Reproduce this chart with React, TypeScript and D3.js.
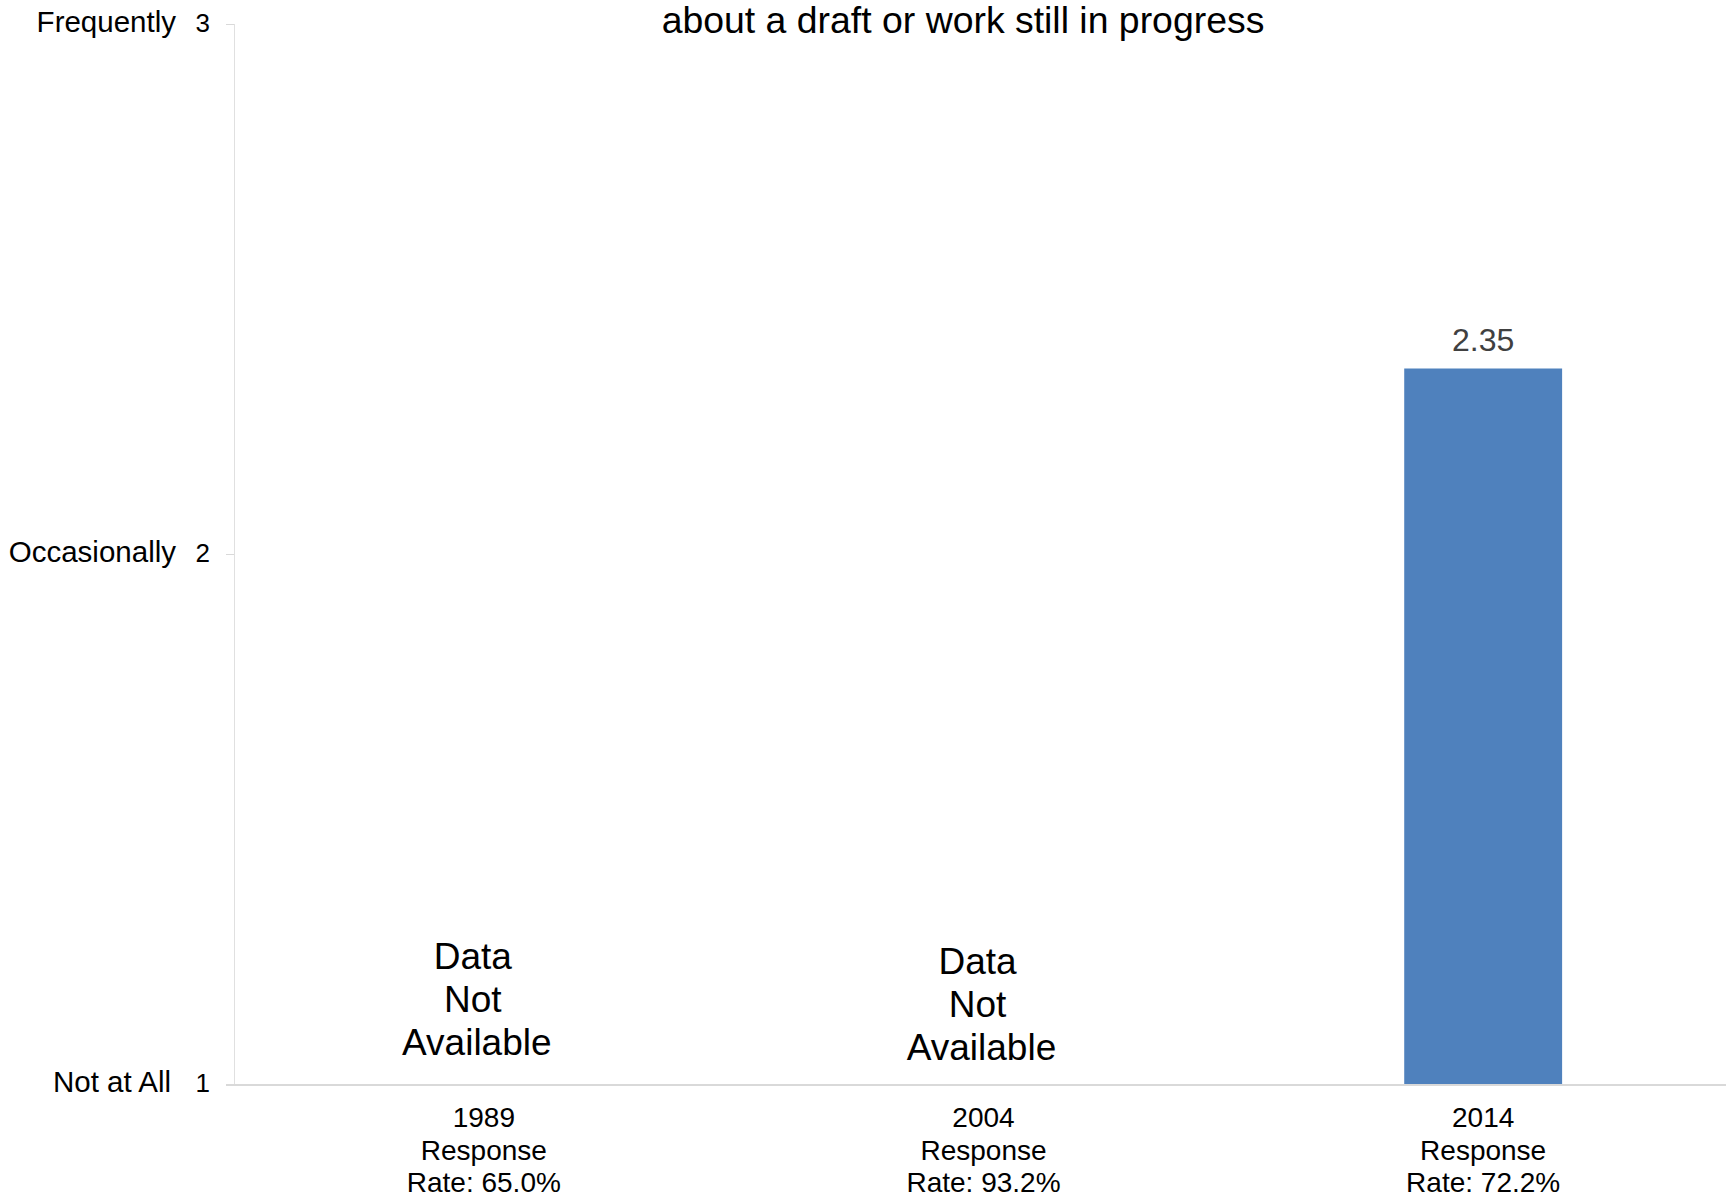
import React, { useRef, useEffect } from "react";
import * as d3 from "d3";

const years = ["1989", "2004", "2014"];
const responseRates = ["65.0%", "93.2%", "72.2%"];
const values: (number | null)[] = [null, null, 2.35];
const tickValues = [1, 2, 3];
const tickNames = ["Not at All", "Occasionally", "Frequently"];
const missingText = ["Data", "Not", "Available"];
const title = "about a draft or work still in progress";

const FONT = "'Liberation Sans', Arial, sans-serif";

const App: React.FC = () => {
  const ref = useRef<SVGSVGElement>(null);

  useEffect(() => {
    const svg = d3.select(ref.current);
    svg.selectAll("*").remove();

    const width = 1726,
      height = 1199;
    const left = 234,
      right = 1733,
      top = 24,
      bottom = 1084;

    const x = d3
      .scaleBand<string>()
      .domain(years)
      .range([left, right])
      .paddingInner(0.684)
      .paddingOuter(0.342);

    const y = d3.scaleLinear().domain([1, 3]).range([bottom, top]);

    svg.attr("width", width).attr("height", height);

    // Title (first line is off the top of the picture)
    svg
      .append("text")
      .attr("x", 963)
      .attr("y", 33)
      .attr("text-anchor", "middle")
      .style("font-family", FONT)
      .style("font-size", "37.4px")
      .style("fill", "#000")
      .text(title);

    // Y axis line
    svg
      .append("line")
      .attr("x1", left + 0.5)
      .attr("x2", left + 0.5)
      .attr("y1", y(3))
      .attr("y2", y(1))
      .attr("stroke", "#e0e0e0")
      .attr("stroke-width", 1);

    // Y ticks
    const ticks = svg.append("g");
    ticks
      .selectAll("line")
      .data(tickValues)
      .enter()
      .append("line")
      .attr("x1", left - 8)
      .attr("x2", left)
      .attr("y1", (d) => y(d) + 0.5)
      .attr("y2", (d) => y(d) + 0.5)
      .attr("stroke", "#d9d9d9")
      .attr("stroke-width", 1);

    ticks
      .selectAll("text.num")
      .data(tickValues)
      .enter()
      .append("text")
      .attr("class", "num")
      .attr("x", 210)
      .attr("y", (d) => y(d) + 8)
      .attr("text-anchor", "end")
      .style("font-family", FONT)
      .style("font-size", "26px")
      .style("fill", "#000")
      .text((d) => String(d));

    ticks
      .selectAll("text.name")
      .data(tickValues)
      .enter()
      .append("text")
      .attr("class", "name")
      .attr("x", (d, i) => (i === 0 ? 171 : 176))
      .attr("y", (d) => y(d) + 8)
      .attr("text-anchor", "end")
      .style("font-family", FONT)
      .style("font-size", "29.5px")
      .style("fill", "#000")
      .text((d, i) => tickNames[i]);

    // Bars
    const barData = years
      .map((yr, i) => ({ yr, v: values[i] }))
      .filter((d) => d.v !== null) as { yr: string; v: number }[];

    svg
      .selectAll("rect.bar")
      .data(barData)
      .enter()
      .append("rect")
      .attr("class", "bar")
      .attr("x", (d) => x(d.yr)!)
      .attr("width", x.bandwidth())
      .attr("y", (d) => y(d.v))
      .attr("height", (d) => y(1) - y(d.v))
      .attr("fill", "#4f81bd");

    svg
      .selectAll("text.val")
      .data(barData)
      .enter()
      .append("text")
      .attr("class", "val")
      .attr("x", (d) => x(d.yr)! + x.bandwidth() / 2)
      .attr("y", (d) => y(d.v) - 18)
      .attr("text-anchor", "middle")
      .style("font-family", FONT)
      .style("font-size", "32px")
      .style("fill", "#404040")
      .text((d) => d.v.toFixed(2));

    // Baseline
    svg
      .append("line")
      .attr("x1", left - 8)
      .attr("x2", width)
      .attr("y1", y(1) + 1)
      .attr("y2", y(1) + 1)
      .attr("stroke", "#d9d9d9")
      .attr("stroke-width", 2);

    // "Data Not Available" notes
    const missing = years.filter((_, i) => values[i] === null);
    const noteShift: Record<string, { dx: number; dy: number }> = {
      "1989": { dx: -11, dy: 0 },
      "2004": { dx: -6, dy: 5 },
    };
    missing.forEach((yr) => {
      const cx = x(yr)! + x.bandwidth() / 2 + noteShift[yr].dx;
      const t = svg
        .append("text")
        .attr("text-anchor", "middle")
        .style("font-family", FONT)
        .style("font-size", "37px")
        .style("fill", "#000");
      missingText.forEach((w, j) => {
        t.append("tspan")
          .attr("x", cx + (j === 2 ? 4 : 0))
          .attr("y", 969 + noteShift[yr].dy + j * 43)
          .text(w);
      });
    });

    // X labels
    years.forEach((yr, i) => {
      const cx = x(yr)! + x.bandwidth() / 2;
      const t = svg
        .append("text")
        .attr("text-anchor", "middle")
        .style("font-family", FONT)
        .style("font-size", "28px")
        .style("fill", "#000");
      [yr, "Response", `Rate: ${responseRates[i]}`].forEach((line, j) => {
        t.append("tspan")
          .attr("x", cx)
          .attr("y", bottom + 43 + j * 32.5)
          .text(line);
      });
    });
  }, []);

  return (
    <svg
      ref={ref}
      width={1726}
      height={1199}
      style={{ position: "absolute", left: 0, top: 0, background: "#fff" }}
    />
  );
};

export default App;
